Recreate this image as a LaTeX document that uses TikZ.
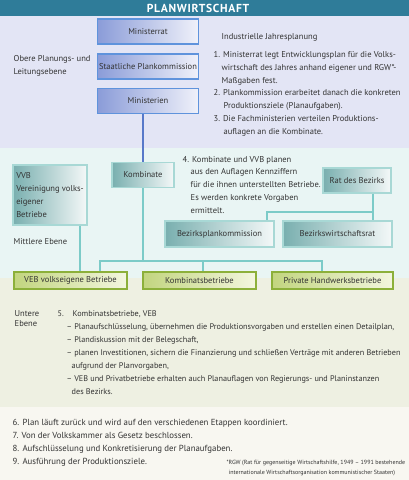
\documentclass[tikz,border=0pt]{standalone}
\usepackage{fontspec}
\setmainfont{PT Sans}
\definecolor{titleBlue}{HTML}{2F7C99}
\definecolor{upZone}{HTML}{E3E5F5}
\definecolor{midZone}{HTML}{E9F5F4}
\definecolor{lowZone}{HTML}{EEF0E2}
\definecolor{endZone}{HTML}{F8F7F1}
\definecolor{upDark}{HTML}{8A9CD8}
\definecolor{upLight}{HTML}{F0F1FA}
\definecolor{upBorder}{HTML}{5F93DC}
\definecolor{midDark}{HTML}{79AFAF}
\definecolor{midLight}{HTML}{F4F8F8}
\definecolor{midBorder}{HTML}{A8D8D5}
\definecolor{lowDark}{HTML}{C2D57F}
\definecolor{lowLight}{HTML}{F3F6DF}
\definecolor{lowBorder}{HTML}{8CB03A}
\definecolor{blueLine}{HTML}{5879C9}
\definecolor{tealLine}{HTML}{7CCBC8}
\definecolor{inkGrey}{HTML}{333333}
\begin{document}
\begin{tikzpicture}[x=1pt, y=-1pt, line width=1.4pt,
    font=\fontsize{8.5}{12.8}\selectfont, text=inkGrey,
    upbox/.style={draw=upBorder, left color=upDark, right color=upLight,
      minimum width=101pt, minimum height=25pt, inner sep=1pt},
    midbox/.style={draw=midBorder, left color=midDark, right color=midLight,
      minimum height=25pt, inner sep=2pt},
    lowbox/.style={draw=lowBorder, left color=lowDark, right color=lowLight,
      minimum height=17pt, inner sep=1pt},
    txt/.style={anchor=north west, align=left, inner sep=0pt},
    blueline/.style={draw=blueLine, line width=2pt},
    tealline/.style={draw=tealLine, line width=2pt}]
  \useasboundingbox (0,0) rectangle (409,480);
  \fill[titleBlue] (0,0) rectangle (409,16);
  \fill[upZone] (0,16) rectangle (409,148);
  \fill[midZone] (0,148) rectangle (409,278);
  \fill[lowZone] (0,278) rectangle (409,407);
  \fill[endZone] (0,407) rectangle (409,480);
  \node[text=white, font=\fontsize{11.6}{12}\selectfont\bfseries\addfontfeature{LetterSpace=6}] (title) at (198,8.3) {PLANWIRTSCHAFT};

  \node[upbox] (mrat) at (148,31.5) {Ministerrat};
  \node[upbox] (spk) at (148,66.5) {Staatliche Plankommission};
  \node[upbox] (mien) at (148,101) {Ministerien};

  \node[midbox, minimum width=62pt] (komb) at (143,175) {Kombinate};
  \node[midbox, minimum width=74pt, minimum height=60pt, align=left] (vvb) at (50,195)
    {VVB\\Vereinigung volks-\\eigener\\Betriebe};
  \node[midbox, minimum width=68pt] (rat) at (357,180.5) {Rat des Bezirks};
  \node[midbox, minimum width=109pt, minimum height=26pt] (bpk) at (219.5,234) {Bezirksplankommission};
  \node[midbox, minimum width=109pt, minimum height=26pt] (bwr) at (337.5,234) {Bezirkswirtschaftsrat};

  \node[lowbox, minimum width=113pt] (veb) at (70.5,280.5) {VEB volkseigene Betriebe};
  \node[lowbox, minimum width=113pt] (kbet) at (199.5,280.5) {Kombinatsbetriebe};
  \node[lowbox, minimum width=121pt] (priv) at (332.5,280.5) {Private Handwerksbetriebe};

  \coordinate (busW) at (100,261);
  \coordinate (busK) at (203,261);
  \coordinate (busE) at (322,261);
  \coordinate (vvbLeg) at (80,225);
  \coordinate (ratLeg) at (373,212);
  \coordinate (ratJ) at (267,212);
  \draw[blueline] (mien.south -| komb.north) -- (komb.north);
  \draw[tealline] (komb.south) -- (komb.south |- busW);
  \draw[tealline] (busW |- veb.north) -- (busW) -- (busE) -- (busE |- priv.north);
  \draw[tealline] (busK) -- (busK |- kbet.north);
  \draw[tealline] (vvbLeg |- vvb.south) -- (vvbLeg |- veb.north);
  \draw[tealline] (ratLeg |- rat.south) -- (ratLeg |- bwr.north);
  \draw[tealline] (ratLeg) -- (ratJ) -- (ratJ |- bpk.north);

  \node[txt] (obere) at (13,54.8) {Obere Planungs- und\\Leitungsebene};
  \node[txt] (mittel) at (13,237.8) {Mittlere Ebene};
  \node[txt] (untere) at (14,309.8) {Untere\\[-2.5pt]Ebene};
  \node[txt] (jahr) at (221,32.8) {Industrielle Jahresplanung};
  \node[txt] (schritt13) at (213,50.8)
    {1. Ministerrat legt Entwicklungsplan für die Volks-\\
     \hspace*{8pt}wirtschaft des Jahres anhand eigener und RGW*-\\
     \hspace*{8pt}Maßgaben fest.\\
     2. Plankommission erarbeitet danach die konkreten\\
     \hspace*{10pt}Produktionsziele (Planaufgaben).\\
     3. Die Fachministerien verteilen Produktions-\\
     \hspace*{10pt}auflagen an die Kombinate.};
  \node[txt] (schritt4) at (182,155.3)
    {4. Kombinate und VVB planen\\
     \hspace*{8pt}aus den Auflagen Kennziffern\\
     \hspace*{8pt}für die ihnen unterstellten Betriebe.\\
     \hspace*{8pt}Es werden konkrete Vorgaben\\
     \hspace*{8pt}ermittelt.};
  \node[txt, font=\fontsize{8.2}{13}\selectfont] (schritt5) at (57,309.8)
    {\makebox[15pt][l]{5.}Kombinatsbetriebe, VEB\\
     \hspace*{9pt}-- Planaufschlüsselung, übernehmen die Produktionsvorgaben und erstellen einen Detailplan,\\
     \hspace*{9pt}-- Plandiskussion mit der Belegschaft,\\
     \hspace*{9pt}-- planen Investitionen, sichern die Finanzierung und schließen Verträge mit anderen Betrieben\\
     \hspace*{14pt}aufgrund der Planvorgaben,\\
     \hspace*{9pt}-- VEB und Privatbetriebe erhalten auch Planauflagen von Regierungs- und Planinstanzen\\
     \hspace*{14pt}des Bezirks.};
  \node[txt, font=\fontsize{8.8}{13}\selectfont] (schritt69) at (12,418.6)
    {6. Plan läuft zurück und wird auf den verschiedenen Etappen koordiniert.\\
     7. Von der Volkskammer als Gesetz beschlossen.\\
     8. Aufschlüsselung und Konkretisierung der Planaufgaben.\\
     9. Ausführung der Produktionsziele.};
  \node[txt, font=\fontsize{6}{10}\selectfont] (rgw) at (228,459.8)
    {\llap{*}RGW (Rat für gegenseitige Wirtschaftshilfe, 1949 -- 1991 bestehende\\
     internationale Wirtschaftsorganisation kommunistischer Staaten)};
\end{tikzpicture}
\end{document}
